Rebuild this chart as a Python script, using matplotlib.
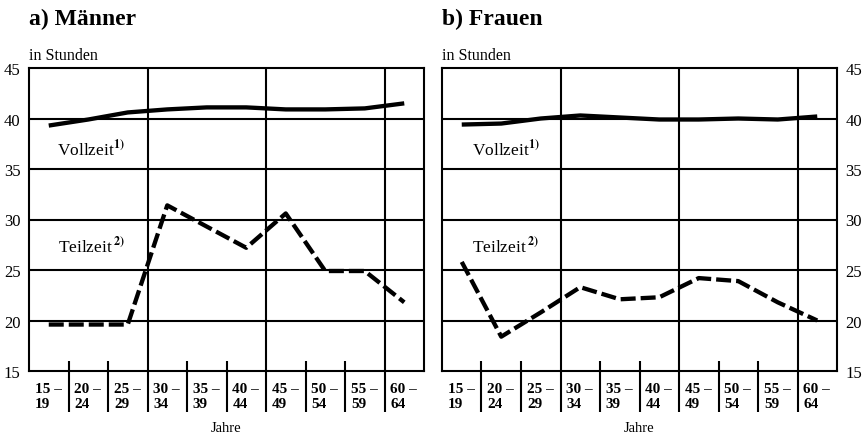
import matplotlib
matplotlib.use("Agg")
import matplotlib.pyplot as plt
import matplotlib.transforms as mtransforms

plt.rcParams.update(
    {
        "font.family": "Liberation Serif",
        "mathtext.fontset": "stix",
        "lines.scale_dashes": False,
    }
)

# Altersgruppen
age_groups = ["15 –\n19", "20 –\n24", "25 –\n29", "30 –\n34", "35 –\n39",
              "40 –\n44", "45 –\n49", "50 –\n54", "55 –\n59", "60 –\n64"]

# Wochenarbeitszeit in Stunden
maenner_vollzeit = [39.3, 39.9, 40.6, 40.9, 41.1, 41.1, 40.9, 40.9, 41.0, 41.5]
maenner_teilzeit = [19.6, 19.6, 19.6, 31.4, 29.3, 27.2, 30.6, 24.9, 24.9, 21.8]
frauen_vollzeit = [39.4, 39.5, 40.0, 40.3, 40.1, 39.9, 39.9, 40.0, 39.9, 40.2]
frauen_teilzeit = [25.8, 18.4, 20.8, 23.3, 22.1, 22.3, 24.2, 23.9, 21.8, 20.0]

yticks = [15, 20, 25, 30, 35, 40, 45]
hgrid = [20, 25, 30, 35, 40]

fig = plt.figure(figsize=(8.65, 4.35), dpi=100)
ax_m = fig.add_axes([29 / 865, 63 / 435, 395 / 865, 303 / 435])
ax_f = fig.add_axes([442 / 865, 63 / 435, 395 / 865, 303 / 435])

GRID_LW = 1.5


def draw_panel(ax, title, vollzeit, teilzeit, right_labels):
    x = list(range(len(age_groups)))
    ax.set_xlim(-0.5, len(age_groups) - 0.5)
    ax.set_ylim(15, 45)
    for v in hgrid:
        ax.axhline(v, color="black", lw=GRID_LW, zorder=1)

    # Trennstriche zwischen den Altersgruppen
    trans = mtransforms.blended_transform_factory(ax.transData, ax.transAxes)
    for i in range(1, len(age_groups)):
        b = i - 0.5
        top = 1.0 if i % 3 == 0 else 0.033
        ax.plot([b, b], [top, -0.135], transform=trans, color="black",
                lw=GRID_LW, clip_on=False, zorder=1, solid_capstyle="butt")

    ax.plot(x, vollzeit, color="black", lw=3.1, solid_capstyle="butt", zorder=3)
    ax.plot(x, teilzeit, color="black", lw=3.1, dashes=(10.8, 3.6),
            dash_capstyle="butt", zorder=3)

    for i, lab in enumerate(age_groups):
        ax.text(i - 0.5 + 0.15, -0.035, lab, transform=trans, ha="left",
                va="top", fontsize=11, fontweight="bold", linespacing=1.2)

    ax.text(0.5, -0.165, "Jahre", transform=ax.transAxes, ha="center",
            va="top", fontsize=10.5)

    ax.text(0.22 if not right_labels else 0.25, 37.0,
            r"Vollzeit$^{\mathbf{1)}}$", ha="left", va="center", fontsize=12.5)
    ax.text(0.24 if not right_labels else 0.27, 27.4,
            r"Teilzeit$\,^{\mathbf{2)}}$", ha="left", va="center", fontsize=12.5)

    ax.set_yticks(yticks)
    ax.set_xticks([])
    ax.tick_params(axis="y", length=0, labelsize=12, pad=6)
    if right_labels:
        ax.yaxis.tick_right()
        ax.tick_params(axis="y", pad=6)
    for s in ax.spines.values():
        s.set_linewidth(GRID_LW)
        s.set_zorder(2)

    ax.text(0.0, 1.0 + 13 / 303, "in Stunden", transform=ax.transAxes,
            ha="left", va="center", fontsize=11.5)
    ax.text(0.0, 1.0 + 50 / 303, title, transform=ax.transAxes, ha="left",
            va="center", fontsize=17, fontweight="bold")


draw_panel(ax_m, "a) Männer", maenner_vollzeit, maenner_teilzeit, False)
draw_panel(ax_f, "b) Frauen", frauen_vollzeit, frauen_teilzeit, True)

fig.savefig("out.png", dpi=100)
